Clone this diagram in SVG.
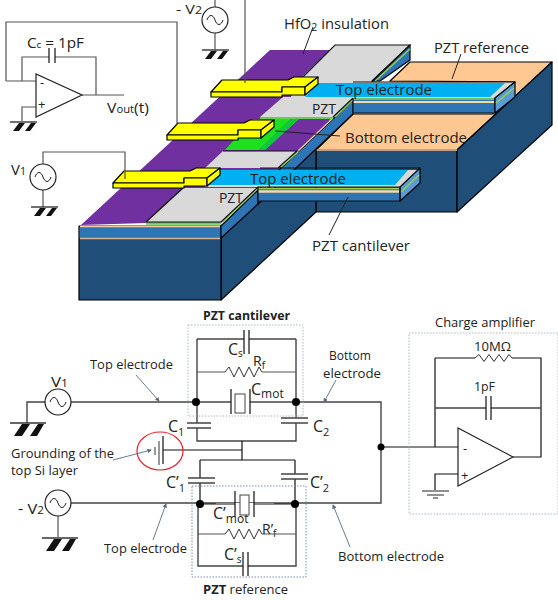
<svg xmlns="http://www.w3.org/2000/svg" width="558" height="600" viewBox="0 0 558 600">
<style>
text{font-family:"Open Sans","Liberation Sans",sans-serif;fill:#222}
.t14{font-size:14px}.t12{font-size:12px}.t13{font-size:13px}.t16{font-size:16px}
.o{stroke:#000;stroke-width:1.2;stroke-linejoin:round}
.dk{fill:#1f4e79}.md{fill:#2e75b6}.gr{fill:#d9d9d9}.lb{fill:#00b0f0}.or{fill:#ffc893}
.lg{fill:none;stroke:#92d050;stroke-width:1.5}.pk{fill:none;stroke:#f4c9a0;stroke-width:1.3}
.y{fill:#ffff00;stroke:#000;stroke-width:1.2;stroke-linejoin:round}
.w{fill:none;stroke:#555;stroke-width:1.2}.w2{fill:none;stroke:#444;stroke-width:1.4}
.k{fill:none;stroke:#111;stroke-width:1.2}.ld{fill:none;stroke:#222;stroke-width:1}
.ar{fill:none;stroke:#5a6b80;stroke-width:.9}
.src{fill:#fff;stroke:#222;stroke-width:1.2}.box{fill:none;stroke:#a9b8cc;stroke-width:1;stroke-dasharray:1.5 1.5}
</style>
<defs>
<g id="gnd"><path d="M0 0H27" stroke="#333" stroke-width="1.4"/><path d="M3 9L9 1H15L9 9ZM15 9L21 1H26L20 9Z" fill="#111"/></g>
<g id="gndb"><path d="M0 0H36" stroke="#333" stroke-width="1.4"/><path d="M4 13L12 1H20L12 13ZM20 13L28 1H34L27 13Z" fill="#111"/></g>
<g id="ac"><path d="M-8 0C-6-6-2-6 0 0S6 6 8 0" fill="none" stroke="#222" stroke-width="1"/></g>
<path id="zz" d="M0 0L4-5L9 5L14-5L19 5L24-5L29 5L34-5L37 0" fill="none" stroke="#333" stroke-width="1"/>
<path id="zzs" d="M0 0L4-3.500L9 3.500L14-3.500L19 3.500L24-3.500L29 3.500L34-3.500L37 0" fill="none" stroke="#333" stroke-width="1"/>
<marker id="a" markerWidth="5" markerHeight="5" refX="4" refY="2.5" orient="auto"><path d="M0 0L5 2.5L0 5Z" fill="#5a6b80"/></marker>
<g id="pad"><path class="y" d="M113 183L124 171H190L196 168H220L207 178H184L184 183Z"/><path class="y" d="M113 183H184V178H207V186H184V188H113Z"/><path class="y" d="M220 168V175L207 186V178Z"/></g>
</defs>

<g id="device">
<g id="block-right">
<path class="or o" d="M410 62H552L457 150H316L353 114H493V100L515 82L390 81Z"/>
<path class="dk o" d="M316 150H457V212H316Z"/>
<path class="dk o" d="M457 150L552 62V125L457 212Z"/>
<path d="M316 150H457" stroke="#f4c9a0" stroke-width="1.5"/>
</g>
<g id="block-left">
<path class="dk o" d="M221 226L316 140V212L221 300Z"/>
<path class="dk o" d="M79 226H221V300H79Z"/>
<path class="md" d="M79.600 227H220.400V238H79.600Z"/>
<path d="M80 226.500H220" stroke="#f4c9a0" stroke-width="1.3"/><path d="M80 238.500H220" stroke="#d9b48f" stroke-width="1.5"/>
<path class="md o" d="M221 226L258 190V204L221 238Z"/>
<path class="md o" d="M282 167L353 100V114L297 167L258 204V190Z"/>
</g>
<g id="hfo2"><path fill="#7030a0" d="M81 225L270 50H330L303 76L290 118H333L300 150L221 223H146Z"/><path class="pk" d="M297 152L333 118"/></g>
<g id="bottom-electrode"><path fill="#1ee01e" d="M253 119H299L265 150H225Z"/><path fill="#00b050" opacity=".5" d="M290 119H299L265 150H258Z"/></g>
<g id="pzt-front">
<path class="gr" d="M183 188H258L221 222H146Z"/><path d="M146 223.500H221" stroke="#62d050" stroke-width="2.500"/>
<path class="gr" d="M223 151H297L278 168H205Z"/>
<path class="lg" d="M223 222L258 188"/>
<path class="k" d="M146 222H221L258 187M278 168L297 151H223M146 222L183 188"/>
<path class="lg" d="M281 167L298 152"/>
<path class="gr" d="M283 97H353L333 117H260Z"/><path d="M260 118H333" stroke="#62d050" stroke-width="2"/>
<path class="lg" d="M335 117L353 100"/><path class="k" d="M333 117L353 98"/>
<path class="gr" d="M335 45H410L372 82H300Z"/>
<path class="md o" d="M410 45V60L380 81H372Z"/><path class="lg" d="M375 81L410 49"/><path class="k" d="M300 80L335 45H410L372 82"/>
</g>
<g id="cantilever-reference">
<path class="gr" d="M300 82H515L495 98H290Z"/>
<path class="lb" d="M318 83H505L490 97H305Z"/>
<path class="md" d="M353 98H495V113H353Z"/><path d="M353 99H495" stroke="#92d050" stroke-width="1.300"/><path d="M353 102H495" stroke="#f4d9a0" stroke-width="2"/>
<path d="M353 113H495V98L515 82" class="k"/><path fill="#5b9bd5" class="o" d="M495 98L515 82V97L495 113Z"/><path class="lg" d="M496 103L514 88"/>
<path class="k" d="M353 82H515"/><path class="k" d="M353 98V113"/>
</g>
<g id="cantilever-pzt">
<path class="gr" d="M210 170H420L400 187H205Z"/>
<path class="lb" d="M220 170H408L395 185H207Z"/>
<path class="md" d="M258 188H400V201H258Z"/><path d="M258 188.500H400" stroke="#92d050" stroke-width="1.300"/><path d="M258 191.500H400" stroke="#f4d9a0" stroke-width="2.300"/>
<path fill="#5b9bd5" class="o" d="M400 187L420 168V183L400 201Z"/><path class="lg" d="M401 192L419 175"/>
<path class="k" d="M260 168H420M258 201H400V187H258V201"/>
</g>
<g id="pads"><use href="#pad"/><use href="#pad" x="54" y="-48"/><use href="#pad" x="98" y="-91"/></g>
</g>

<g id="connectors-top">
<path class="w" d="M43 164V152H125V179"/>
<path class="w" d="M6 81H36M6 81V22H177V125"/>
<path class="w" d="M22 81V57H49M55 57H96V95M82 95H124M36 107H22V121"/>
<path class="w" d="M215 0V7M215 33V50M43 190V207M245 0V83"/>
<path class="k" d="M49 48V63M55 48V63"/>
<path class="ld" d="M313 27L303 54M461 54L452 79M275 131L340 136M348 197L329 235"/>
</g>

<g id="opamp-top"><path d="M36 74V117L82 95Z" fill="#fff" stroke="#222" stroke-width="1.200"/><text class="t13" x="40" y="87">-</text><text class="t13" x="38" y="109">+</text></g>
<g id="source-v1-top"><circle class="src" cx="43" cy="177" r="13"/><use href="#ac" x="43" y="177"/><use href="#gnd" x="31" y="207"/></g>
<g id="source-v2-top"><circle class="src" cx="215" cy="20" r="13"/><use href="#ac" x="215" y="20"/><use href="#gnd" x="202" y="50"/></g>
<use href="#gnd" x="10" y="122"/>
<g id="labels-top">
<text class="t14" x="27" y="48" textLength="57" lengthAdjust="spacingAndGlyphs">C<tspan font-size="9">c</tspan> = 1pF</text>
<text class="t14" x="107" y="113" textLength="42" lengthAdjust="spacingAndGlyphs">V<tspan font-size="10">out</tspan>(t)</text>
<text class="t14" x="11" y="175" textLength="15" lengthAdjust="spacingAndGlyphs">V<tspan font-size="10">1</tspan></text>
<text class="t13" x="176" y="14" textLength="26" lengthAdjust="spacingAndGlyphs">- V<tspan font-size="10">2</tspan></text>
<text class="t14" x="284" y="29" textLength="105" lengthAdjust="spacingAndGlyphs">HfO<tspan font-size="10" dy="2">2</tspan><tspan dy="-2"> insulation</tspan></text>
<text class="t14" x="434" y="53" textLength="95" lengthAdjust="spacingAndGlyphs">PZT reference</text>
<text class="t14" x="336" y="95" textLength="96" lengthAdjust="spacingAndGlyphs">Top electrode</text>
<text class="t14" x="312" y="114" textLength="24" lengthAdjust="spacingAndGlyphs">PZT</text>
<text class="t14" x="345" y="143" textLength="122" lengthAdjust="spacingAndGlyphs">Bottom electrode</text>
<text class="t14" x="250" y="184" textLength="96" lengthAdjust="spacingAndGlyphs">Top electrode</text>
<text class="t14" x="219" y="203" textLength="24" lengthAdjust="spacingAndGlyphs">PZT</text>
<text class="t14" x="312" y="251" textLength="98" lengthAdjust="spacingAndGlyphs">PZT cantilever</text>
</g>

<g id="connectors-bottom">
<path class="w2" d="M27 423V402H45M71 402H231M250 402H381V503H71"/>
<path class="w" d="M58 516V537"/>
<path class="w2" d="M197 339V423M197 428V441H296V423M296 339V418M197 339H244M249 339H296"/>
<path class="w" d="M197 372H225M262 372H296"/>
<path class="k" d="M242 441V450M163 450H242M242 450V460M200 460H295M200 460V478M200 483V504M295 460V474M295 479V504"/>
<path class="w2" d="M198 504V566H243M248 566H296V504"/>
<path class="w" d="M198 534H225M262 534H296"/>
<path class="k" d="M381 447H458M435 447V358M435 358H475M512 358H541V457H513"/>
<path class="w2" d="M435 408H486M491 408H541"/>
<path class="k" d="M458 474H435V490"/>
<path class="ar" marker-end="url(#a)" d="M136 375L159 401"/>
<path class="ar" marker-end="url(#a)" d="M153 540L166 504"/>
<path class="ar" marker-end="url(#a)" d="M336 380L324 402"/>
<path class="ar" marker-end="url(#a)" d="M350 547L333 505"/>
<path class="ar" marker-end="url(#a)" d="M113 460L151 450"/>
</g>

<g id="pzt-cantilever">
<rect class="box" x="188" y="325" width="115" height="91"/>
<path class="k" d="M244 330V354M249 330V354M231 389V414M250 389V414"/><rect x="235" y="394" width="10" height="19" fill="#fff" stroke="#444"/>
<use href="#zz" x="225" y="372"/>
<path stroke="#444" stroke-width="1.500" d="M187 423H211M187 428H211M281 418H308M281 423H308"/>
<circle cx="196" cy="402" r="4"/><circle cx="296" cy="402" r="4"/>
</g>
<g id="pzt-reference">
<rect class="box" style="stroke:#7a8fb0" x="192" y="486" width="114" height="91"/>
<rect x="216" y="503" width="58" height="2" fill="#fff"/>
<path class="k" d="M200 504H235M254 504H295M235 491V517M254 491V517M243 552V576M248 552V576"/><rect x="240" y="495" width="9" height="20" fill="#fff" stroke="#444"/>
<use href="#zz" x="225" y="534"/>
<path stroke="#444" stroke-width="1.500" d="M188 478H215M188 483H215M281 474H308M281 479H308"/>
<circle cx="200" cy="504" r="4"/><circle cx="295" cy="504" r="4"/>
</g>
<g id="charge-amplifier">
<rect class="box" x="409" y="333" width="149" height="181"/>
<use href="#zzs" x="475" y="358"/>
<path class="k" d="M486 396V420M491 396V420"/>
<path d="M458 428V486L513 457Z" fill="#fff" stroke="#222" stroke-width="1.200"/>
<text class="t13" x="463" y="453">-</text><text class="t13" x="461" y="480">+</text>
<path stroke="#222" d="M422 491H449M427 495H444M433 498H438"/>
<circle cx="381" cy="447" r="3.500"/>
</g>
<g id="source-v1"><circle class="src" cx="58" cy="402" r="13"/><use href="#ac" x="58" y="402"/><use href="#gndb" x="10" y="423"/></g>
<g id="source-v2"><circle class="src" cx="58" cy="503" r="13"/><use href="#ac" x="58" y="503"/><use href="#gndb" x="42" y="538"/></g>
<g id="si-ground"><ellipse cx="160" cy="451" rx="23" ry="19" fill="none" stroke="#e8202a" stroke-width="1.200"/><path stroke="#333" d="M155 447V455M159 441V465"/><path stroke="#333" stroke-width="1.400" d="M163 436V464"/></g>

<g id="labels-bottom">
<text class="t12" x="203" y="320" font-weight="700" textLength="87" lengthAdjust="spacingAndGlyphs">PZT cantilever</text>
<text class="t12" x="203" y="594" textLength="85" lengthAdjust="spacingAndGlyphs"><tspan font-weight="700">PZT</tspan> reference</text>
<text class="t12" x="435" y="327" textLength="100" lengthAdjust="spacingAndGlyphs">Charge amplifier</text>
<text class="t12" x="474" y="351" textLength="37" lengthAdjust="spacingAndGlyphs">10MΩ</text>
<text class="t12" x="474" y="391" textLength="21" lengthAdjust="spacingAndGlyphs">1pF</text>
<text class="t12" x="90" y="369" textLength="83" lengthAdjust="spacingAndGlyphs">Top electrode</text>
<text class="t12" x="104" y="553" textLength="83" lengthAdjust="spacingAndGlyphs">Top electrode</text>
<text class="t12" x="329" y="360" textLength="42" lengthAdjust="spacingAndGlyphs">Bottom</text>
<text class="t12" x="323" y="378" textLength="58" lengthAdjust="spacingAndGlyphs">electrode</text>
<text class="t12" x="338" y="561" textLength="106" lengthAdjust="spacingAndGlyphs">Bottom electrode</text>
<text class="t12" x="11" y="458" textLength="103" lengthAdjust="spacingAndGlyphs">Grounding of the</text>
<text class="t12" x="11" y="475" textLength="67" lengthAdjust="spacingAndGlyphs">top Si layer</text>
<text class="t14" x="51" y="387" textLength="17" lengthAdjust="spacingAndGlyphs">V<tspan font-size="10">1</tspan></text>
<text class="t14" x="18" y="514" textLength="26" lengthAdjust="spacingAndGlyphs">- V<tspan font-size="10">2</tspan></text>
<text class="t16" x="168" y="432">C<tspan font-size="11" dy="4">1</tspan></text>
<text class="t16" x="313" y="432">C<tspan font-size="11" dy="4">2</tspan></text>
<text class="t16" x="166" y="488">C’<tspan font-size="11" dy="4">1</tspan></text>
<text class="t16" x="310" y="488">C’<tspan font-size="11" dy="4">2</tspan></text>
<text class="t16" x="228" y="355">C<tspan font-size="10" dy="2">s</tspan></text>
<text class="t14" x="253" y="366">R<tspan font-size="10" dy="3">f</tspan></text>
<text class="t16" x="251" y="395">C<tspan font-size="12" dy="3">mot</tspan></text>
<text class="t16" x="213" y="519">C’<tspan font-size="12" dy="4">mot</tspan></text>
<text class="t14" x="262" y="534">R’<tspan font-size="10" dy="3">f</tspan></text>
<text class="t16" x="224" y="560">C’<tspan font-size="10" dy="3">s</tspan></text>
</g>
</svg>
